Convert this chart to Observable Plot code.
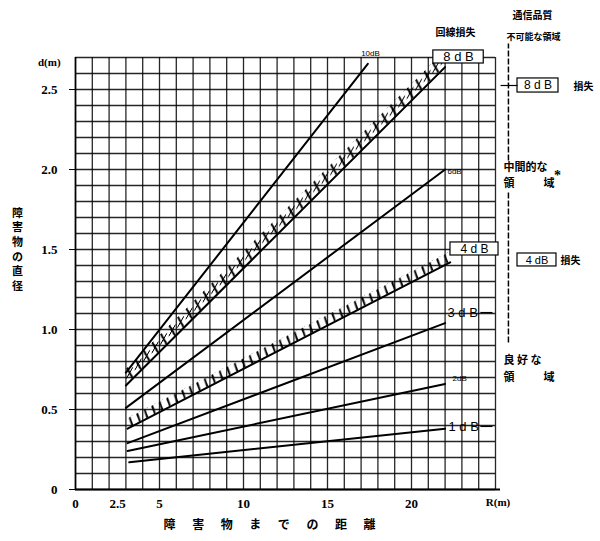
<!DOCTYPE html>
<html><head><meta charset="utf-8">
<script src="https://cdn.jsdelivr.net/npm/d3@7"></script>
<script src="https://cdn.jsdelivr.net/npm/@observablehq/plot@0.6"></script>
<style>body{margin:0;background:#fff}</style>
</head><body><div id="chart"></div>
<script>
// Loss curves: obstacle diameter d(m) vs distance to obstacle R(m)
const lossLabels = ["1dB", "2dB", "3dB", "4dB", "6dB", "8dB", "10dB"];
const startR = [3.2, 3.1, 3.1, 3.1, 3.0, 3.0, 3.0];
const startD = [0.17, 0.24, 0.29, 0.38, 0.51, 0.65, 0.73];
const endR = [22, 22, 22, 22.3, 22, 22, 17.4];
const endD = [0.38, 0.66, 1.04, 1.42, 2.0, 2.64, 2.66];

const xTicks = [0, 2.5, 5, 10, 15, 20];
const xTickLabels = ["0", "2.5", "5", "10", "15", "20"];
const yTicks = [0, 0.5, 1.0, 1.5, 2.0, 2.5];
const yTickLabels = ["0", "0.5", "1.0", "1.5", "2.0", "2.5"];

const rows = lossLabels.flatMap((loss, i) => [
  {loss, R: startR[i], d: startD[i]},
  {loss, R: endR[i], d: endD[i]}
]);
const band = (loss) => rows.filter(r => r.loss === loss);
const X_BAND = 0.1, T_BAND = 0.064;

const JP = "'Noto Sans CJK JP', sans-serif";
const SERIF = "'Liberation Serif', serif";
const SANS = "'Liberation Sans', sans-serif";

// annotation texts (data coordinates)
const jpStart = [
  {t: "中間的な", x: 25.48, y: 2.0125, s: 11},
  {t: "領", x: 25.48, y: 1.9125, s: 11},
  {t: "域", x: 27.86, y: 1.9125, s: 11},
  {t: "良 好 な", x: 25.48, y: 0.806, s: 11},
  {t: "領", x: 25.48, y: 0.70, s: 11},
  {t: "域", x: 27.86, y: 0.70, s: 11},
  {t: "損失", x: 29.64, y: 2.519, s: 10},
  {t: "損失", x: 28.87, y: 1.43, s: 10}
];
const jpMiddle = [
  {t: "通信品質", x: 27.2, y: 2.9625, s: 10},
  {t: "回線損失", x: 22.62, y: 2.856, s: 10},
  {t: "不可能な領域", x: 27.26, y: 2.825, s: 9}
];
const xTitleChars = ["障", "害", "物", "ま", "で", "の", "距", "離"];
const dbStart = [
  {t: "3 d B", x: 22.14, y: 1.106, s: 13},
  {t: "1 d B", x: 22.2, y: 0.394, s: 13},
  {t: "2dB", x: 22.44, y: 0.694, s: 8},
  {t: "6dB", x: 22.14, y: 1.9875, s: 8}
];
const boxes = [
  {t: "8 d B", x1: 21.3, x2: 24.3, y1: 2.6625, y2: 2.744, s: 13},
  {t: "8 d B", x1: 26.31, x2: 28.75, y1: 2.481, y2: 2.569, s: 12},
  {t: "4 d B", x1: 22.32, x2: 25.18, y1: 1.4625, y2: 1.544, s: 12},
  {t: "4 dB", x1: 26.31, x2: 28.63, y1: 1.394, y2: 1.475, s: 11}
];
const dashes = [
  {x1: 24.1, x2: 24.82, y: 1.106},
  {x1: 24.1, x2: 24.82, y: 0.394},
  {x1: 25.3, x2: 26.31, y: 2.525}
];
const vSegs = [
  {x: 25.77, y1: 2.056, y2: 2.7875},
  {x: 25.77, y1: 0.919, y2: 1.869}
];

const chart = Plot.plot({
  width: 600, height: 541,
  marginLeft: 75, marginRight: 105, marginTop: 57, marginBottom: 52,
  x: {domain: [0, 25]},
  y: {domain: [0, 2.7]},
  style: {background: "#fff", color: "#000", fontFamily: SERIF, overflow: "visible"},
  marks: [
    Plot.gridX({ticks: 25, stroke: "#000", strokeOpacity: 0.85, strokeWidth: 1.3}),
    Plot.gridY({ticks: 27, stroke: "#000", strokeOpacity: 0.85, strokeWidth: 1.3}),
    Plot.ruleY([0], {x1: 0, x2: 25.3, strokeWidth: 2}),
    Plot.ruleX([0], {strokeWidth: 1.6}),
    Plot.axisX(xTicks, {tickSize: 0, tickPadding: 9, fontSize: 13, fontWeight: "bold",
      tickFormat: (d) => xTickLabels[xTicks.indexOf(d)], label: null}),
    Plot.axisY(yTicks, {tickSize: 6, tickPadding: 12, fontSize: 13, fontWeight: "bold",
      tickFormat: (d) => yTickLabels[yTicks.indexOf(d)], label: null}),
    // hatched bands
    Plot.areaY(band("8dB"), {x: "R", y1: "d", y2: (r) => r.d + X_BAND, fill: "url(#xhatch)"}),
    Plot.areaY(band("4dB"), {x: "R", y1: "d", y2: (r) => r.d + T_BAND, fill: "url(#thatch)"}),
    // loss lines
    Plot.line(rows, {x: "R", y: "d", z: "loss", stroke: "#000", strokeWidth: 2}),
    // boxes
    Plot.rect(boxes, {x1: "x1", x2: "x2", y1: "y1", y2: "y2", fill: "#fff", stroke: "#000", strokeWidth: 1.2}),
    Plot.text(boxes, {x: (b) => (b.x1 + b.x2) / 2, y: (b) => (b.y1 + b.y2) / 2, text: "t", fontSize: "s", fontFamily: SANS}),
    Plot.link(dashes, {x1: "x1", x2: "x2", y1: "y", y2: "y", stroke: "#000", strokeWidth: 1.2}),
    Plot.link(vSegs, {x1: "x", x2: "x", y1: "y1", y2: "y2", stroke: "#000", strokeWidth: 1.5, strokeDasharray: "6,2"}),
    Plot.text(dbStart, {x: "x", y: "y", text: "t", fontSize: "s", textAnchor: "start", fontFamily: SANS}),
    Plot.text([{t: "10dB", x: 17.56, y: 2.725}], {x: "x", y: "y", text: "t", fontSize: 8, fontFamily: SANS}),
    Plot.text(jpStart, {x: "x", y: "y", text: "t", fontSize: "s", textAnchor: "start", fontFamily: JP, fontWeight: "bold"}),
    Plot.text(jpMiddle, {x: "x", y: "y", text: "t", fontSize: "s", fontFamily: JP, fontWeight: "bold"}),
    Plot.text([{t: "*", x: 28.69, y: 1.9625}], {x: "x", y: "y", text: "t", fontSize: 14, fontWeight: "bold"}),
    // axis titles
    Plot.text([{t: "d(m)", x: -0.89, y: 2.669}], {x: "x", y: "y", text: "t", textAnchor: "end", fontSize: 11, fontWeight: "bold"}),
    Plot.text([{t: "R(m)", x: 25.15, y: -0.081}], {x: "x", y: "y", text: "t", fontSize: 11, fontWeight: "bold"}),
    Plot.text([{t: "障\n害\n物\nの\n直\n径", x: -3.45, y: 1.506}], {x: "x", y: "y", text: "t", fontSize: 11, lineHeight: 1.33, fontFamily: JP, fontWeight: "bold"}),
    Plot.text(xTitleChars, {x: (c, i) => 5.6 + i * 1.7, y: () => -0.225, text: (c) => c, fontSize: 12, fontFamily: JP, fontWeight: "bold"})
  ]
});

// hatch patterns, aligned to the lines through the chart's own scales
const sx = chart.scale("x"), sy = chart.scale("y");
const defs = d3.select(chart).insert("defs", ":first-child");
function alignedPattern(id, i, w, bandD, sw, shapes) {
  const x0 = sx.apply(startR[i]), y0 = sy.apply(startD[i]);
  const x1 = sx.apply(endR[i]), y1 = sy.apply(endD[i]);
  const m = (y1 - y0) / (x1 - x0);
  const h = sy.apply(0) - sy.apply(bandD);
  const T = (dx, dy, cx, cy) => [cx + dx, cy + dy - m * dx];
  const p = defs.append("pattern").attr("id", id).attr("patternUnits", "userSpaceOnUse")
    .attr("width", w).attr("height", h)
    .attr("patternTransform", `translate(${x0},${y0}) skewY(${Math.atan(m) * 180 / Math.PI})`);
  const d = shapes(w, h).map(seg => {
    const [a, b] = seg.map(([dx, dy, cx, cy]) => T(dx, dy, cx, cy));
    return `M${a[0]},${a[1]}L${b[0]},${b[1]}`;
  }).join("");
  p.append("path").attr("d", d).attr("stroke", "#000").attr("stroke-width", sw)
    .attr("fill", "none").attr("stroke-linecap", "round");
}
// X marks above the 8 dB line
alignedPattern("xhatch", 5, 8.5, X_BAND, 1.4, (w, h) => {
  const cx = w / 2, cy = h / 2, a = 2.8, b = 4.9;
  return [
    [[-a, -b, cx, cy], [a, b, cx, cy]],
    [[-a, b, cx, cy], [a, -b, cx, cy]]
  ];
});
// short ticks above the 4 dB line
alignedPattern("thatch", 3, 7.5, T_BAND, 1.7, (w, h) => {
  const cx = w * 0.7;
  return [[[0, -0.5, cx, h], [-2.6, -7.8, cx, h]]];
});

document.getElementById("chart").appendChild(chart);
</script>
</body></html>
